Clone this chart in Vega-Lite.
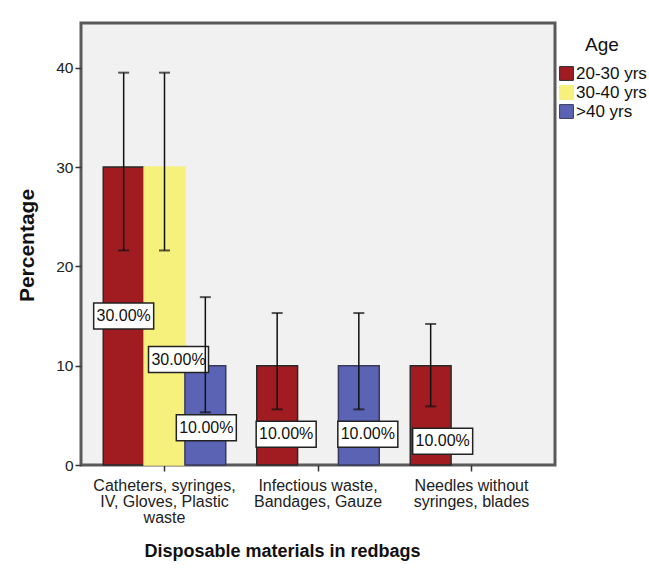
{
  "$schema": "https://vega.github.io/schema/vega-lite/v6.json",
  "autosize": "none",
  "width": 474,
  "height": 442,
  "padding": {"left": 81, "top": 23, "right": 94, "bottom": 104},
  "background": "white",
  "config": {
    "font": "Liberation Sans",
    "view": {"fill": "#f1f1f1", "stroke": "#5a5a5a", "strokeWidth": 3},
    "axis": {"grid": false, "domain": false, "labelFont": "Liberation Sans", "titleFont": "Liberation Sans"}
  },
  "data": {
    "values": [
      {"cat": "Catheters, syringes, IV, Gloves, Plastic waste", "age": "20-30 yrs", "pct": 30, "lo": 21.6, "hi": 39.5, "label": "30.00%"},
      {"cat": "Catheters, syringes, IV, Gloves, Plastic waste", "age": "30-40 yrs", "pct": 30, "lo": 21.6, "hi": 39.5, "label": "30.00%"},
      {"cat": "Catheters, syringes, IV, Gloves, Plastic waste", "age": ">40 yrs", "pct": 10, "lo": 5.3, "hi": 16.9, "label": "10.00%"},
      {"cat": "Infectious waste, Bandages, Gauze", "age": "20-30 yrs", "pct": 10, "lo": 5.6, "hi": 15.3, "label": "10.00%"},
      {"cat": "Infectious waste, Bandages, Gauze", "age": ">40 yrs", "pct": 10, "lo": 5.6, "hi": 15.3, "label": "10.00%"},
      {"cat": "Needles without syringes, blades", "age": "20-30 yrs", "pct": 10, "lo": 5.9, "hi": 14.2, "label": "10.00%"}
    ]
  },
  "encoding": {
    "x": {
      "field": "cat", "type": "nominal",
      "scale": {"domain": ["Catheters, syringes, IV, Gloves, Plastic waste", "Infectious waste, Bandages, Gauze", "Needles without syringes, blades"], "paddingInner": 0.202, "paddingOuter": 0.145},
      "axis": {
        "title": "Disposable materials in redbags",
        "titleFontSize": 18, "titleFontWeight": "bold", "titleColor": "#111",
        "titleX": 201, "titleY": 86, "titleAlign": "center", "titleBaseline": "middle", "titleAnchor": null,
        "labelAngle": 0, "labelFontSize": 16, "labelColor": "#222", "labelLineHeight": 16, "labelBaseline": "top",
        "labelPadding": 6, "tickSize": 6, "tickColor": "#333", "tickWidth": 1.5, "labelLimit": 220,
        "labelExpr": "datum.value == 'Catheters, syringes, IV, Gloves, Plastic waste' ? ['Catheters, syringes,', 'IV, Gloves, Plastic', 'waste'] : datum.value == 'Infectious waste, Bandages, Gauze' ? ['Infectious waste,', 'Bandages, Gauze'] : ['Needles without', 'syringes, blades']"
      }
    },
    "xOffset": {"field": "age", "type": "nominal", "scale": {"domain": ["20-30 yrs", "30-40 yrs", ">40 yrs"], "paddingInner": 0, "paddingOuter": 0}}
  },
  "layer": [
    {
      "mark": {"type": "bar", "strokeWidth": 1.5},
      "encoding": {
        "y": {
          "field": "pct", "type": "quantitative",
          "scale": {"domain": [0, 44.5], "nice": false},
          "axis": {
            "values": [0, 10, 20, 30, 40], "title": "Percentage",
            "titleFontSize": 21, "titleFontWeight": "bold", "titleColor": "#111",
            "titleX": -54, "titleY": 222, "titleAngle": -90, "titleAlign": "center", "titleBaseline": "middle",
            "labelFontSize": 15.5, "labelColor": "#222", "labelPadding": 2,
            "tickSize": 6, "tickColor": "#333", "tickWidth": 1.5
          }
        },
        "color": {
          "field": "age", "type": "nominal",
          "scale": {"domain": ["20-30 yrs", "30-40 yrs", ">40 yrs"], "range": ["#a11c21", "#f6f07c", "#5b63b4"]},
          "legend": {
            "title": "Age", "orient": "none", "legendX": 477, "legendY": 13,
            "titleFontSize": 19, "titleFontWeight": "normal", "titleColor": "#111", "titleAnchor": "middle", "titlePadding": 10,
            "labelFontSize": 17, "labelColor": "#111", "labelOffset": 1,
            "symbolType": "square", "symbolSize": 190, "symbolStrokeColor": "#111", "symbolStrokeWidth": 1, "symbolOpacity": 1,
            "rowPadding": 0
          }
        },
        "stroke": {
          "field": "age", "type": "nominal",
          "scale": {"domain": ["20-30 yrs", "30-40 yrs", ">40 yrs"], "range": ["#2a2a2a", "#f6f07c", "#3a3a5a"]},
          "legend": null
        }
      }
    },
    {
      "transform": [{"filter": "datum.age == '20-30 yrs' && datum.pct == 30"}],
      "layer": [
        {"mark": {"type": "point", "shape": "M-1,4.533H1V5.4H-1Z", "size": 3600, "filled": true, "fill": "white", "stroke": "#222", "strokeWidth": 1.5, "opacity": 1}, "encoding": {"y": {"field": "pct", "type": "quantitative"}}},
        {"mark": {"type": "text", "fontSize": 16, "color": "#111", "dx": 0, "dy": 149, "align": "center", "baseline": "middle"}, "encoding": {"y": {"field": "pct", "type": "quantitative"}, "text": {"field": "label"}}}
      ]
    },
    {
      "transform": [{"filter": "datum.age == '30-40 yrs'"}],
      "layer": [
        {"mark": {"type": "point", "shape": "M-0.533,5.983H1.467V6.85H-0.533Z", "size": 3600, "filled": true, "fill": "white", "stroke": "#222", "strokeWidth": 1.5, "opacity": 1}, "encoding": {"y": {"field": "pct", "type": "quantitative"}}},
        {"mark": {"type": "text", "fontSize": 16, "color": "#111", "dx": 14, "dy": 192.5, "align": "center", "baseline": "middle"}, "encoding": {"y": {"field": "pct", "type": "quantitative"}, "text": {"field": "label"}}}
      ]
    },
    {
      "transform": [{"filter": "datum.age == '>40 yrs' && datum.cat == 'Catheters, syringes, IV, Gloves, Plastic waste'"}],
      "layer": [
        {"mark": {"type": "point", "shape": "M-0.967,1.633H1.033V2.5H-0.967Z", "size": 3600, "filled": true, "fill": "white", "stroke": "#222", "strokeWidth": 1.5, "opacity": 1}, "encoding": {"y": {"field": "pct", "type": "quantitative"}}},
        {"mark": {"type": "text", "fontSize": 16, "color": "#111", "dx": 1, "dy": 62, "align": "center", "baseline": "middle"}, "encoding": {"y": {"field": "pct", "type": "quantitative"}, "text": {"field": "label"}}}
      ]
    },
    {
      "transform": [{"filter": "datum.cat == 'Infectious waste, Bandages, Gauze'"}],
      "layer": [
        {"mark": {"type": "point", "shape": "M-0.7,1.853H1.3V2.72H-0.7Z", "size": 3600, "filled": true, "fill": "white", "stroke": "#222", "strokeWidth": 1.5, "opacity": 1}, "encoding": {"y": {"field": "pct", "type": "quantitative"}}},
        {"mark": {"type": "text", "fontSize": 16, "color": "#111", "dx": 9, "dy": 68.6, "align": "center", "baseline": "middle"}, "encoding": {"y": {"field": "pct", "type": "quantitative"}, "text": {"field": "label"}}}
      ]
    },
    {
      "transform": [{"filter": "datum.cat == 'Needles without syringes, blades'"}],
      "layer": [
        {"mark": {"type": "point", "shape": "M-0.6,2.087H1.4V2.953H-0.6Z", "size": 3600, "filled": true, "fill": "white", "stroke": "#222", "strokeWidth": 1.5, "opacity": 1}, "encoding": {"y": {"field": "pct", "type": "quantitative"}}},
        {"mark": {"type": "text", "fontSize": 16, "color": "#111", "dx": 12, "dy": 75.6, "align": "center", "baseline": "middle"}, "encoding": {"y": {"field": "pct", "type": "quantitative"}, "text": {"field": "label"}}}
      ]
    },
    {
      "mark": {"type": "rule", "color": "#111", "strokeWidth": 1.5},
      "encoding": {"y": {"field": "lo", "type": "quantitative"}, "y2": {"field": "hi"}}
    },
    {
      "mark": {"type": "tick", "color": "#111", "size": 11, "thickness": 2},
      "encoding": {"y": {"field": "lo", "type": "quantitative"}}
    },
    {
      "mark": {"type": "tick", "color": "#111", "size": 11, "thickness": 2},
      "encoding": {"y": {"field": "hi", "type": "quantitative"}}
    }
  ]
}
